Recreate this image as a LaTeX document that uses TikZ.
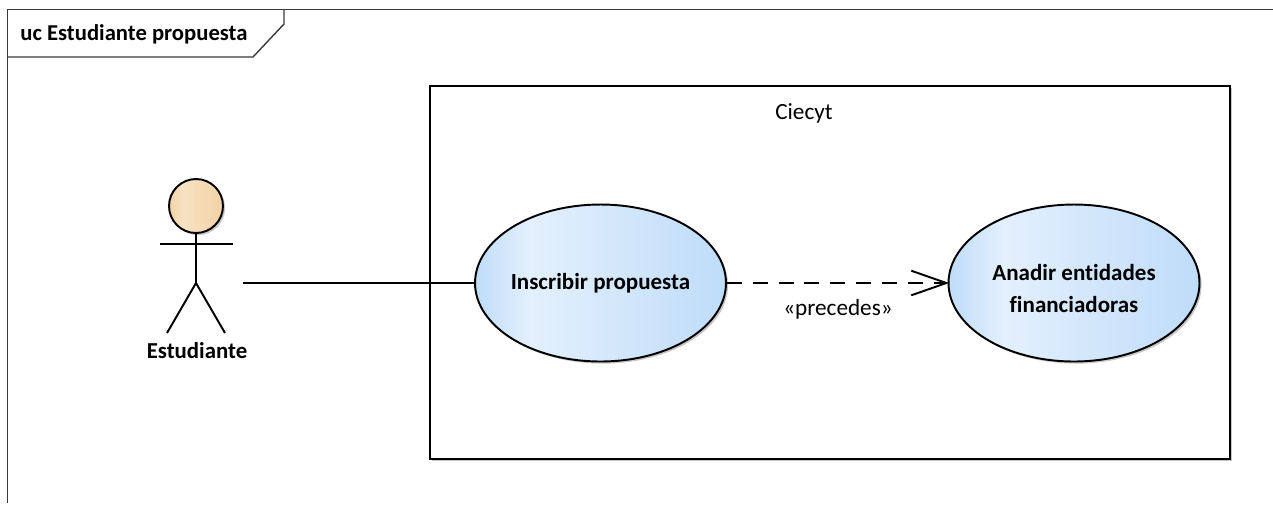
\documentclass[tikz,border=0pt]{standalone}
\usepackage{fontspec}
\setmainfont{Carlito}[Ligatures=CommonOff]
\usetikzlibrary{arrows.meta,shapes.geometric,shadows}

\definecolor{framegray}{HTML}{3A3A3A}
\definecolor{blueedge}{HTML}{BFDCF9}
\definecolor{bluelight}{HTML}{E3F0FD}
\definecolor{peachedge}{HTML}{F2D2A4}
\definecolor{peachlight}{HTML}{F8E2C4}

\pgfdeclarehorizontalshading{usecaseshade}{100bp}{color(0bp)=(blueedge); color(25bp)=(blueedge); color(36bp)=(bluelight); color(75bp)=(blueedge); color(100bp)=(blueedge)}
\pgfdeclarehorizontalshading{headshade}{100bp}{color(0bp)=(peachedge); color(25bp)=(peachedge); color(38bp)=(peachlight); color(75bp)=(peachedge); color(100bp)=(peachedge)}

\tikzset{
  softshadow/.style={drop shadow={shadow xshift=1.2pt,shadow yshift=-1.2pt,fill=black,opacity=0.22}},
  usecase/.style={ellipse,draw,line width=1.1pt,shading=usecaseshade,softshadow,minimum width=5.02cm,minimum height=3.14cm,inner sep=-10pt,align=center,font=\fontsize{13.1}{18.1}\selectfont\bfseries},
  actorline/.style={line width=1.1pt},
  label/.style={inner sep=0pt,font=\fontsize{13.2}{15}\selectfont}
}

\begin{document}
\begin{tikzpicture}[x=0.02cm,y=-0.02cm]
\useasboundingbox (0,0) rectangle (1273,505);

% Frame
\draw[framegray,line width=0.8pt] (7.5,503) -- (7.5,9.5) -- (1273,9.5);
\draw[framegray,line width=0.8pt] (7.5,57) -- (253,57) -- (284,24) -- (284,9.5);
\node[label,anchor=west,font=\fontsize{12.9}{14}\selectfont\bfseries] (frametitle) at (20,34) {uc Estudiante propuesta};

% System box
\node[draw,line width=1.1pt,fill=white,softshadow,minimum width=16cm,minimum height=7.46cm,inner sep=0pt] (ciecyt) at (830,272.5) {};
\node[label] (ciecytlabel) at (804,113) {Ciecyt};

% Use cases
\node[usecase] (inscribir) at (600.5,283) {Inscribir propuesta};
\node[usecase] (anadir) at (1074,283) {\rule{0pt}{15pt}Anadir entidades\\financiadoras};

% Actor
\node[circle,draw,line width=1.1pt,shading=headshade,softshadow,minimum size=1.08cm,inner sep=0pt] (head) at (196,206) {};
\coordinate (hip) at (196,283);
\coordinate (handleft) at (160,244);
\coordinate (handright) at (233,244);
\coordinate (footleft) at (167,333);
\coordinate (footright) at (225,333);
\draw[actorline] (head) -- (hip);
\draw[actorline] (handleft) -- (handright);
\draw[actorline] (footleft) -- (hip) -- (footright);
\node[label,font=\fontsize{13}{15}\selectfont\bfseries] (estudiante) at (197,351) {Estudiante};

% Connectors
\coordinate (actorend) at (243,283);
\draw[line width=1.1pt] (actorend) -- (inscribir);
\draw[line width=1.1pt,shorten >=-1pt,dash pattern=on 8.5pt off 6.2pt,-{Straight Barb[length=20pt,width=14pt,line width=1.1pt]}] (inscribir) -- (anadir);
\node[label] (precedes) at (838,309) {«precedes»};

\end{tikzpicture}
\end{document}
